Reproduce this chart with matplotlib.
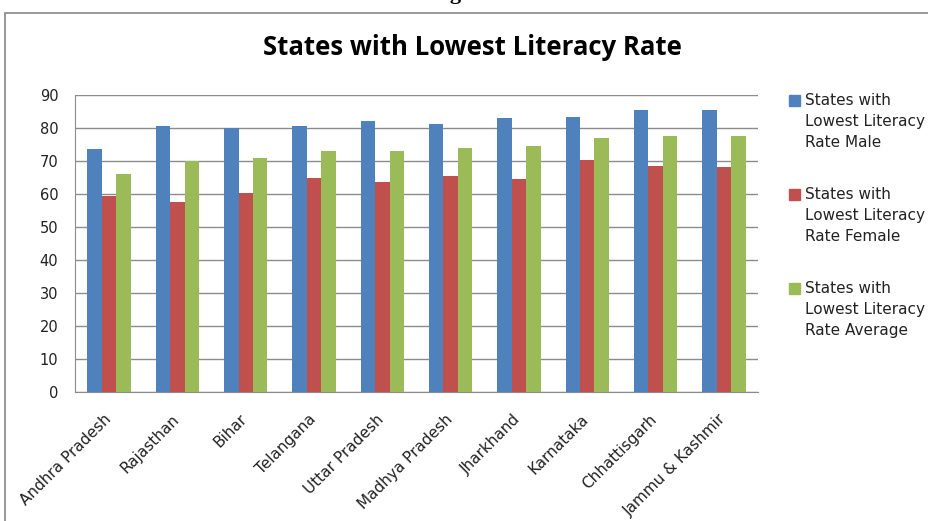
import matplotlib.pyplot as plt
import matplotlib.transforms as mtransforms
import numpy as np
from matplotlib.patches import Rectangle

states = ["Andhra Pradesh", "Rajasthan", "Bihar", "Telangana", "Uttar Pradesh",
          "Madhya Pradesh", "Jharkhand", "Karnataka", "Chhattisgarh", "Jammu & Kashmir"]
male = [73.5, 80.7, 79.9, 80.7, 82.0, 81.1, 82.9, 83.4, 85.6, 85.6]
female = [59.5, 57.7, 60.4, 64.9, 63.5, 65.4, 64.5, 70.3, 68.5, 68.1]
average = [66.2, 70.0, 70.8, 73.0, 73.0, 73.8, 74.4, 77.1, 77.5, 77.5]
series_names = ["States with\nLowest Literacy\nRate Male",
                "States with\nLowest Literacy\nRate Female",
                "States with\nLowest Literacy\nRate Average"]
colors = ["#4F81BD", "#C0504D", "#9BBB59"]
yticks = list(range(0, 100, 10))

W, H = 929, 521
fig = plt.figure(figsize=(W / 100, H / 100), dpi=100)

# chart border (cut off at right and bottom like the source screenshot)
fig.patches.append(Rectangle((5 / W, -0.2), 1.2, 1.2 - 13 / H,
                             transform=fig.transFigure, fill=False,
                             edgecolor="#868686", linewidth=1.2))
# caption above the chart, mostly cut off by the top edge
fig.text(470 / W, 1 + 1 / H, "Figure 5", ha="center", va="baseline",
         fontsize=16, fontweight="bold", family="Liberation Serif")

ax = fig.add_axes([75 / W, 1 - 392 / H, (758 - 75) / W, (392 - 95) / H])

x = np.arange(len(states))
width = 0.212
for i, (vals, c) in enumerate(zip([male, female, average], colors)):
    ax.bar(x + (i - 1) * width, vals, width, color=c, zorder=3)

ax.set_xlim(-0.5, len(states) - 0.5)
ax.set_ylim(0, 90)
ax.set_yticks(yticks)
ax.yaxis.grid(True, color="#8c8c8c", linewidth=1.0, zorder=0)
for s in ["top", "right"]:
    ax.spines[s].set_visible(False)
for s in ["left", "bottom"]:
    ax.spines[s].set_color("#8c8c8c")
ax.tick_params(axis="y", length=0, labelsize=10.5, pad=12)
ax.tick_params(axis="x", length=0, labelsize=11, pad=14)
ax.set_xticks(x)
ax.set_xticklabels(states, rotation=45, ha="right", va="top",
                   rotation_mode="anchor", color="#222222")
shift = mtransforms.ScaledTranslation(-6 / 100, 0, fig.dpi_scale_trans)
for lab in ax.get_xticklabels():
    lab.set_transform(lab.get_transform() + shift)
for lab in ax.get_yticklabels():
    lab.set_color("#222222")

fig.text(472 / W, 1 - 47 / H, "States with Lowest Literacy Rate", ha="center",
         va="center", fontsize=18.5, fontweight="bold", family="Open Sans")

# legend
for i, (name, c) in enumerate(zip(series_names, colors)):
    ytop = 95 + i * 94
    fig.patches.append(Rectangle((789 / W, 1 - (ytop + 11) / H), 11 / W, 11 / H,
                                 transform=fig.transFigure, color=c))
    fig.text(805 / W, 1 - (ytop - 2) / H, name, ha="left", va="top",
             fontsize=11, linespacing=1.5, color="#222222")

fig.savefig("out.png", dpi=100)
